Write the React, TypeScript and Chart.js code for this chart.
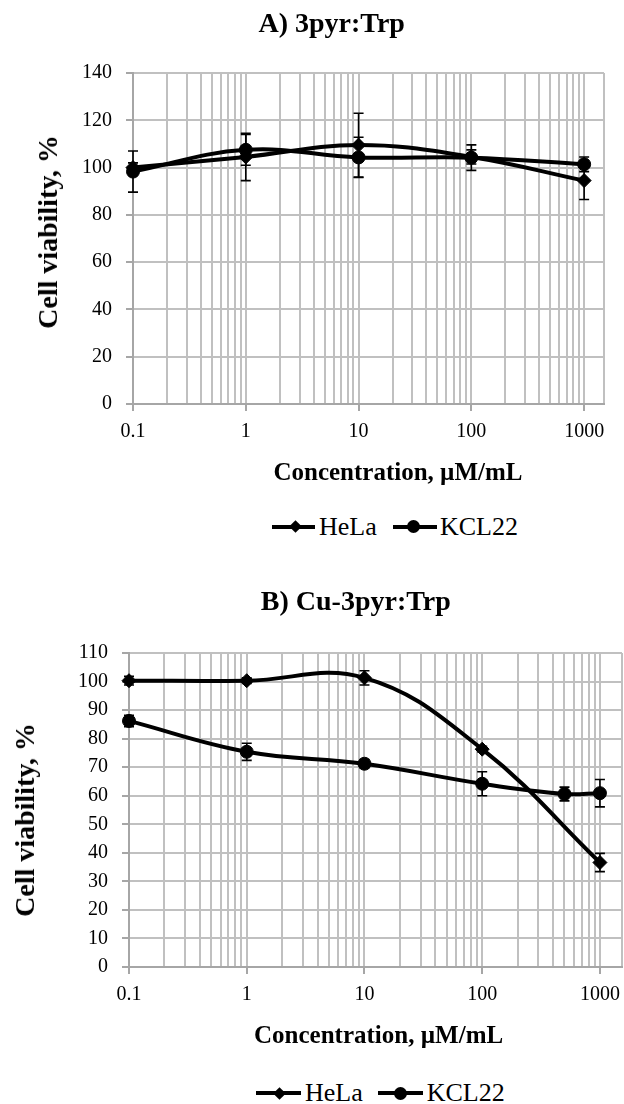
import React, { useEffect, useRef } from 'react';
import { Chart, registerables } from 'chart.js';

Chart.register(...registerables);

const FONT = '"Liberation Serif", "Times New Roman", serif';
const GRID = '#c0c0c0';
const AXIS = '#a6a6a6';

// ---------- Panel A: 3pyr:Trp ----------
const concA = [0.1, 1, 10, 100, 1000];
const helaA = [100, 104.5, 109.5, 104.5, 94.5];
const helaAErr = [2, 10, 13.5, 3, 8];
const kclA = [98.3, 107.5, 104.3, 104.2, 101.4];
const kclAErr = [8.7, 6.5, 8.5, 5.4, 3.1];

// ---------- Panel B: Cu-3pyr:Trp ----------
const concBHela = [0.1, 1, 10, 100, 1000];
const helaB = [100.3, 100.3, 101.3, 76.3, 36.6];
const helaBErr = [1.5, 1, 2.5, 1, 3.2];
const concBKcl = [0.1, 1, 10, 100, 500, 1000];
const kclB = [86.2, 75.4, 71.2, 64.2, 60.6, 60.9];
const kclBErr = [2, 3, 1.5, 4.2, 2.4, 4.8];

// ---------- Axis labels ----------
const xMajorTicks = [0.1, 1, 10, 100, 1000];
const xTickLabels = ['0.1', '1', '10', '100', '1000'];
const seriesNames = ['HeLa', 'KCL22'];
const titleA = 'A) 3pyr:Trp';
const titleB = 'B) Cu-3pyr:Trp';
const xTitle = 'Concentration, µM/mL';
const yTitle = 'Cell viability, %';

const isMajor = (v: number) => xMajorTicks.some((m) => Math.abs(v / m - 1) < 1e-6);

function gridValues(max: number) {
  const out: number[] = [];
  for (let d = 0; d < xMajorTicks.length - 1; d++) {
    for (let k = 1; k <= 9; k++) out.push(xMajorTicks[d] * k);
  }
  out.push(xMajorTicks[xMajorTicks.length - 1]);
  out.push(max);
  return out;
}

const errorBarPlugin = {
  id: 'errorBars',
  afterDatasetsDraw(chart: any) {
    const ctx = chart.ctx;
    const xs = chart.scales.x;
    const ys = chart.scales.y;
    ctx.save();
    ctx.strokeStyle = '#000';
    ctx.lineWidth = 1.6;
    chart.data.datasets.forEach((ds: any) => {
      const errs: number[] = ds.errors || [];
      ds.data.forEach((p: any, i: number) => {
        const e = errs[i];
        if (!e) return;
        const x = xs.getPixelForValue(p.x);
        const y1 = ys.getPixelForValue(p.y + e);
        const y2 = ys.getPixelForValue(p.y - e);
        ctx.beginPath();
        ctx.moveTo(x, y1);
        ctx.lineTo(x, y2);
        ctx.moveTo(x - 5, y1);
        ctx.lineTo(x + 5, y1);
        ctx.moveTo(x - 5, y2);
        ctx.lineTo(x + 5, y2);
        ctx.stroke();
      });
    });
    ctx.restore();
  },
};

function makeDataset(label: string, xs: number[], ys: number[], errs: number[], style: string) {
  return {
    label,
    data: xs.map((x, i) => ({ x, y: ys[i] })),
    errors: errs,
    borderColor: '#000',
    backgroundColor: '#000',
    borderWidth: 4,
    pointStyle: style,
    pointRadius: style === 'circle' ? 6.5 : 7,
    pointBorderWidth: 1,
    pointBackgroundColor: '#000',
    pointBorderColor: '#000',
    tension: 0.4,
    clip: false,
  };
}

interface PanelProps {
  top: number;
  height: number;
  datasets: any[];
  yMax: number;
  yStep: number;
  xMax: number;
  padTop: number;
  padRight: number;
  yWidth: number;
  plotBottom: number;
}

function Panel(p: PanelProps) {
  const ref = useRef<HTMLCanvasElement | null>(null);
  useEffect(() => {
    if (!ref.current) return;
    const tickFont = { family: FONT, size: 20 };
    const chart = new Chart(ref.current, {
      type: 'line',
      data: { datasets: p.datasets },
      plugins: [errorBarPlugin],
      options: {
        responsive: false,
        animation: false,
        devicePixelRatio: 1,
        layout: { autoPadding: false, padding: { top: p.padTop, right: p.padRight, left: 0, bottom: 0 } },
        plugins: { legend: { display: false }, title: { display: false }, tooltip: { enabled: false } },
        scales: {
          x: {
            type: 'logarithmic',
            min: 0.1,
            max: p.xMax,
            afterBuildTicks: (scale: any) => {
              scale.ticks = gridValues(p.xMax).map((v) => ({ value: v }));
            },
            afterFit: (scale: any) => {
              scale.height = p.height - p.plotBottom;
              scale.paddingRight = 0;
              scale.paddingLeft = 0;
            },
            ticks: {
              autoSkip: false,
              maxRotation: 0,
              minRotation: 0,
              padding: 9,
              color: '#000',
              font: tickFont,
              callback: (v: any) => {
                const i = xMajorTicks.findIndex((m) => Math.abs(Number(v) / m - 1) < 1e-6);
                return i >= 0 ? xTickLabels[i] : '';
              },
            },
            grid: {
              color: GRID,
              lineWidth: 2,
              tickLength: 7,
              tickColor: (c: any) => (c.tick && isMajor(c.tick.value) ? AXIS : 'rgba(0,0,0,0)'),
            },
            border: { color: AXIS, width: 2 },
          },
          y: {
            type: 'linear',
            min: 0,
            max: p.yMax,
            afterFit: (scale: any) => {
              scale.width = p.yWidth;
            },
            ticks: { stepSize: p.yStep, padding: 14, color: '#000', font: tickFont },
            grid: { color: GRID, lineWidth: 2, tickLength: 7, tickColor: AXIS },
            border: { color: AXIS, width: 2 },
          },
        },
      } as any,
    });
    return () => chart.destroy();
  }, []);
  return (
    <canvas
      ref={ref}
      width={624}
      height={p.height}
      style={{ position: 'absolute', left: 0, top: p.top, width: 624, height: p.height }}
    />
  );
}

function Text(props: { cx: number; cy: number; size: number; bold?: boolean; rotate?: boolean; children: any }) {
  return (
    <div
      style={{
        position: 'absolute',
        left: props.cx,
        top: props.cy,
        transform: `translate(-50%, -50%)${props.rotate ? ' rotate(-90deg)' : ''}`,
        fontSize: props.size,
        fontWeight: props.bold ? 'bold' : 'normal',
        lineHeight: 1,
        whiteSpace: 'nowrap',
        fontFamily: FONT,
        color: '#000',
      }}
    >
      {props.children}
    </div>
  );
}

function LegendItem(props: { x1: number; x2: number; cx: number; tx: number; cy: number; marker: 'diamond' | 'circle'; label: string }) {
  const { x1, x2, cx, tx, cy, marker, label } = props;
  return (
    <>
      <div style={{ position: 'absolute', left: x1, top: cy - 2, width: x2 - x1, height: 4, background: '#000' }} />
      {marker === 'diamond' ? (
        <div
          style={{
            position: 'absolute',
            left: cx - 4.5,
            top: cy - 4.5,
            width: 9,
            height: 9,
            background: '#000',
            transform: 'rotate(45deg)',
          }}
        />
      ) : (
        <div
          style={{
            position: 'absolute',
            left: cx - 6.5,
            top: cy - 6.5,
            width: 13,
            height: 13,
            borderRadius: '50%',
            background: '#000',
          }}
        />
      )}
      <div
        style={{
          position: 'absolute',
          left: tx,
          top: cy - 13,
          fontSize: 26,
          lineHeight: 1,
          whiteSpace: 'nowrap',
          fontFamily: FONT,
          color: '#000',
        }}
      >
        {label}
      </div>
    </>
  );
}

export default function App() {
  const dsA = [
    makeDataset(seriesNames[0], concA, helaA, helaAErr, 'rectRot'),
    makeDataset(seriesNames[1], concA, kclA, kclAErr, 'circle'),
  ];
  const dsB = [
    makeDataset(seriesNames[0], concBHela, helaB, helaBErr, 'rectRot'),
    makeDataset(seriesNames[1], concBKcl, kclB, kclBErr, 'circle'),
  ];
  return (
    <div
      style={{
        position: 'absolute',
        left: 0,
        top: 0,
        width: 624,
        height: 1104,
        background: '#fff',
        overflow: 'hidden',
        fontFamily: FONT,
      }}
    >
      <Panel top={0} height={500} datasets={dsA} yMax={140} yStep={20} xMax={1500} padTop={73} padRight={20} yWidth={133} plotBottom={404} />
      <Panel top={560} height={500} datasets={dsB} yMax={110} yStep={10} xMax={1540} padTop={93} padRight={2} yWidth={129} plotBottom={407} />

      <Text cx={331.7} cy={23} size={28} bold>{titleA}</Text>
      <Text cx={47.5} cy={231.7} size={28} bold rotate>{yTitle}</Text>
      <Text cx={398} cy={471} size={25} bold>{xTitle}</Text>
      <LegendItem x1={271.7} x2={315} cx={295} tx={319} cy={526.7} marker="diamond" label={seriesNames[0]} />
      <LegendItem x1={392.7} x2={436.7} cx={413.3} tx={440} cy={526.7} marker="circle" label={seriesNames[1]} />

      <Text cx={355.8} cy={601} size={28} bold>{titleB}</Text>
      <Text cx={25} cy={819.5} size={28} bold rotate>{yTitle}</Text>
      <Text cx={378.6} cy={1034} size={25} bold>{xTitle}</Text>
      <LegendItem x1={256} x2={300.7} cx={279.3} tx={305} cy={1093.3} marker="diamond" label={seriesNames[0]} />
      <LegendItem x1={378.3} x2={423.3} cx={400} tx={426.7} cy={1093.3} marker="circle" label={seriesNames[1]} />
    </div>
  );
}
